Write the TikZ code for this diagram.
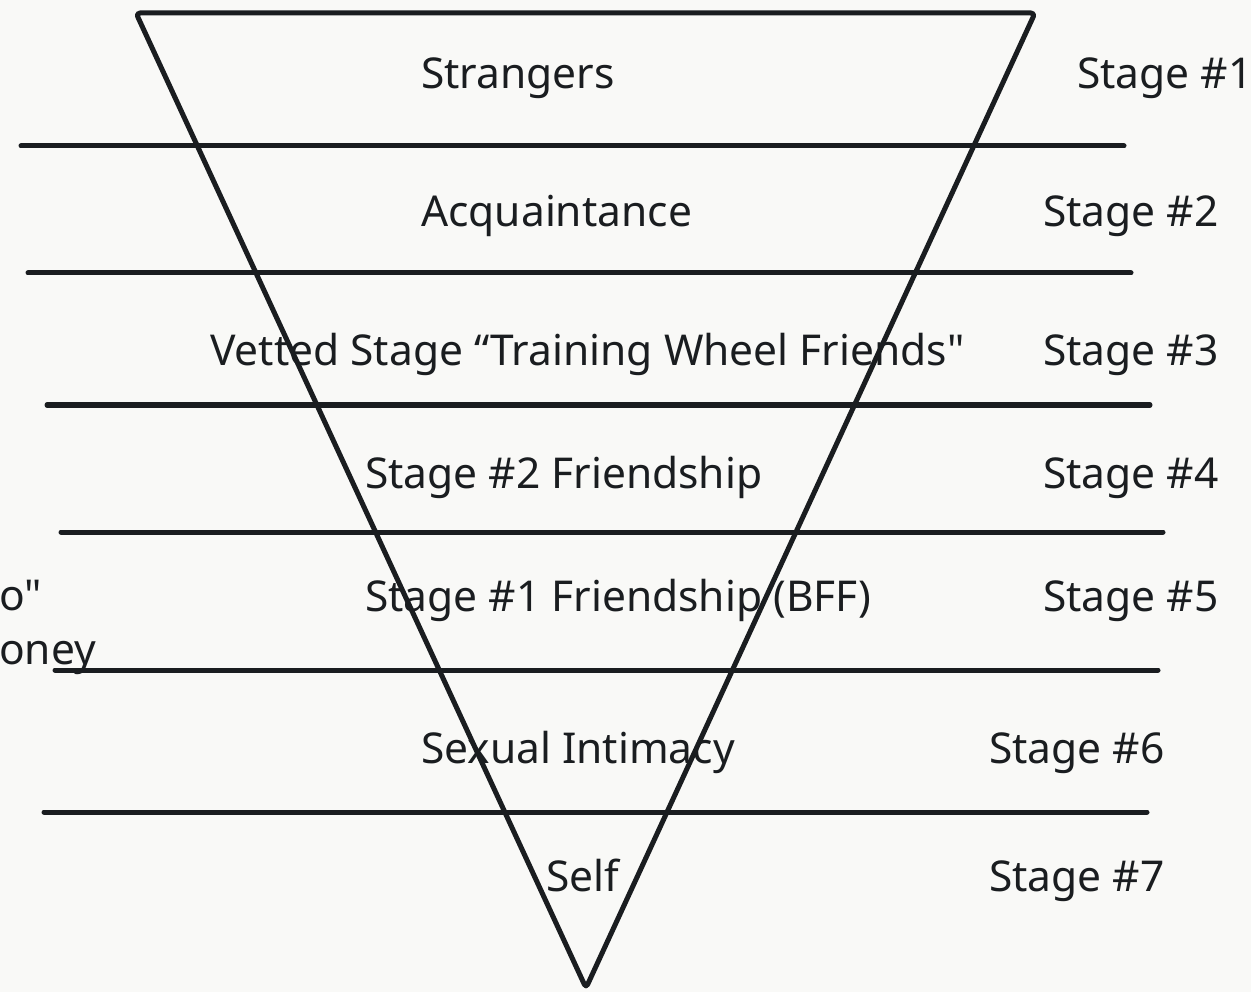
\documentclass[tikz,border=0pt]{standalone}
\usepackage{fontspec}
\defaultfontfeatures[\rmfamily]{}
\setmainfont{Noto Sans}
\definecolor{bg}{HTML}{F9F9F7}
\definecolor{ink}{HTML}{1A1D20}
\begin{document}
\begin{tikzpicture}[x=1pt,y=-1pt,
  lbl/.style={anchor=base west,inner sep=0pt,text=ink,font=\fontsize{42.5}{50}\selectfont},
  rule/.style={draw=ink,line width=5pt,line cap=round},
  funnel/.style={draw=ink,line width=5pt,line join=round,rounded corners=4pt}]
\path[fill=bg] (0,0) rectangle (1251,992);
\clip (0,0) rectangle (1251,992);
\useasboundingbox (0,0) rectangle (1251,992);
% funnel
\coordinate (tl) at (136,13);
\coordinate (tr) at (1035,13);
\coordinate (ap) at (586,988);
\draw[funnel] (ap) -- (tl) -- (tr) -- cycle;
% separators
\coordinate (a1) at (21,146);  \coordinate (b1) at (1124,146);
\coordinate (a2) at (28,273);  \coordinate (b2) at (1131,273);
\coordinate (a3) at (47,405);  \coordinate (b3) at (1150,405);
\coordinate (a4) at (61,532);  \coordinate (b4) at (1163,532);
\coordinate (a5) at (55,670);  \coordinate (b5) at (1158,670);
\coordinate (a6) at (44,812);  \coordinate (b6) at (1147,812);
\foreach \i in {1,...,6} {\draw[rule] (a\i) -- (b\i);}
% level labels
\node[lbl] (n1) at (421,89) {Strangers};
\node[lbl] (n2) at (421,227) {Acquaintance};
\node[lbl] (n3) at (210,366) {Vetted Stage “Training Wheel Friends"};
\node[lbl] (n4) at (365,488) {Stage \#2 Friendship};
\node[lbl] (n5) at (365,611) {Stage \#1 Friendship (BFF)};
\node[lbl] (n6) at (421,763) {Sexual Intimacy};
\node[lbl] (n7) at (546,891) {Self};
% stage labels
\node[lbl] (s1) at (1077,89) {Stage \#1};
\node[lbl] (s2) at (1043,227) {Stage \#2};
\node[lbl] (s3) at (1043,366) {Stage \#3};
\node[lbl] (s4) at (1043,488) {Stage \#4};
\node[lbl] (s5) at (1043,611) {Stage \#5};
\node[lbl] (s6) at (989,763) {Stage \#6};
\node[lbl] (s7) at (989,891) {Stage \#7};
% clipped left texts
\node[lbl] (l1) at (-1,610) {o"};
\node[lbl] (l2) at (-1,664) {oney};
\end{tikzpicture}
\end{document}
